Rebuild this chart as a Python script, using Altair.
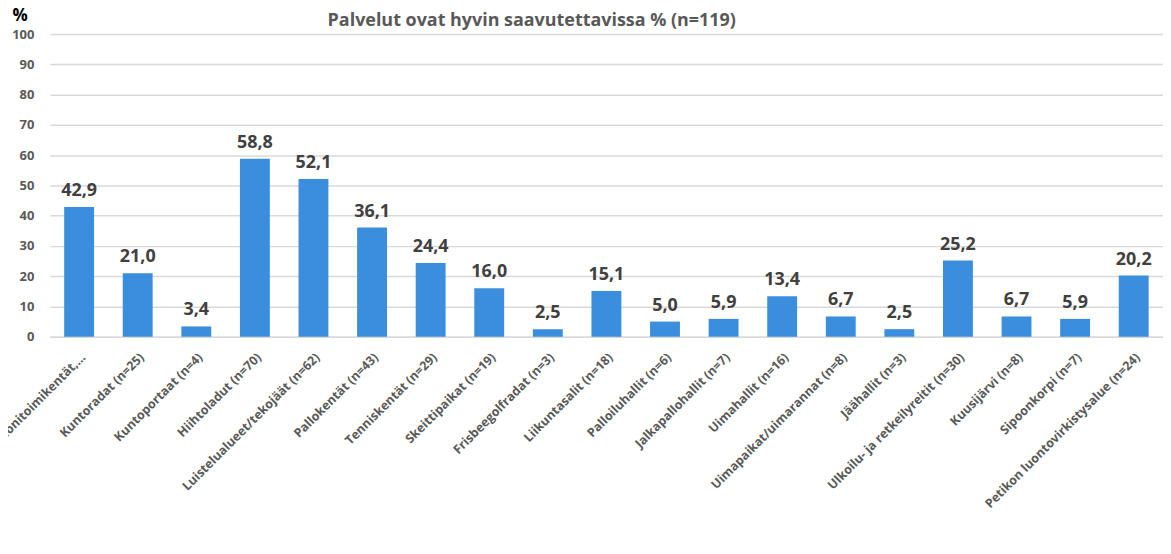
import altair as alt
import pandas as pd

categories = [
    "Lähiliikuntapaikat, monitoimikentät,...",
    "Kuntoradat (n=25)",
    "Kuntoportaat (n=4)",
    "Hiihtoladut (n=70)",
    "Luistelualueet/tekojäät (n=62)",
    "Pallokentät (n=43)",
    "Tenniskentät (n=29)",
    "Skeittipaikat (n=19)",
    "Frisbeegolfradat (n=3)",
    "Liikuntasalit (n=18)",
    "Palloiluhallit (n=6)",
    "Jalkapallohallit (n=7)",
    "Uimahallit (n=16)",
    "Uimapaikat/uimarannat (n=8)",
    "Jäähallit (n=3)",
    "Ulkoilu- ja retkeilyreitit (n=30)",
    "Kuusijärvi (n=8)",
    "Sipoonkorpi (n=7)",
    "Petikon luontovirkistysalue (n=24)",
]
values = [42.9, 21.0, 3.4, 58.8, 52.1, 36.1, 24.4, 16.0, 2.5, 15.1,
          5.0, 5.9, 13.4, 6.7, 2.5, 25.2, 6.7, 5.9, 20.2]
y_ticks = [0, 10, 20, 30, 40, 50, 60, 70, 80, 90, 100]

df = pd.DataFrame({
    "cat": categories,
    "val": values,
    "lab": [f"{v:.1f}".replace(".", ",") for v in values],
})

FONT = "Open Sans"
GRAY = "#595959"

x_enc = alt.X(
    "cat:N", sort=categories, title=None,
    scale=alt.Scale(paddingInner=0.49, paddingOuter=0.245),
    axis=alt.Axis(labelAngle=-45, labelAlign="right", labelBaseline="top",
                  labelFont=FONT, labelFontSize=12.5, labelFontWeight="bold",
                  labelColor=GRAY, labelPadding=14, labelLimit=400,
                  ticks=False, domain=True, domainColor="#d9d9d9",
                  domainWidth=1.5, grid=False, labelOverlap=False),
)
y_enc = alt.Y(
    "val:Q", title="%",
    scale=alt.Scale(domain=[0, 100], nice=False),
    axis=alt.Axis(values=y_ticks, labelFont=FONT, labelFontSize=13,
                  labelFontWeight="bold", labelColor=GRAY, labelPadding=16,
                  labelOverlap=False,
                  ticks=False, domain=False, grid=True, gridColor="#d9d9d9",
                  gridWidth=1.5,
                  titleAngle=0, titleAlign="left", titleBaseline="alphabetic",
                  titleX=-38, titleY=-14, titleFont=FONT, titleFontSize=17,
                  titleFontWeight="bold", titleColor="#000000"),
)

base = alt.Chart(df).encode(x=x_enc, y=y_enc)
bars = base.mark_bar(color="#3B8EDE")
texts = base.mark_text(
    font=FONT, fontSize=18, fontWeight="bold", color="#404040",
    baseline="alphabetic", dy=-11,
).encode(text="lab:N")

chart = (bars + texts).properties(
    width=1118, height=304,
    title=alt.TitleParams(
        "Palvelut ovat hyvin saavutettavissa % (n=119)",
        font=FONT, fontSize=18, fontWeight="bold", color=GRAY,
        anchor="middle", dx=-75, offset=-24,
    ),
    autosize=alt.AutoSizeParams(type="none"),
    padding={"left": 42, "top": 25, "right": 0, "bottom": 205},
).configure_view(stroke=None)

chart.save("out.html", embed_options={"renderer": "svg", "actions": False})
